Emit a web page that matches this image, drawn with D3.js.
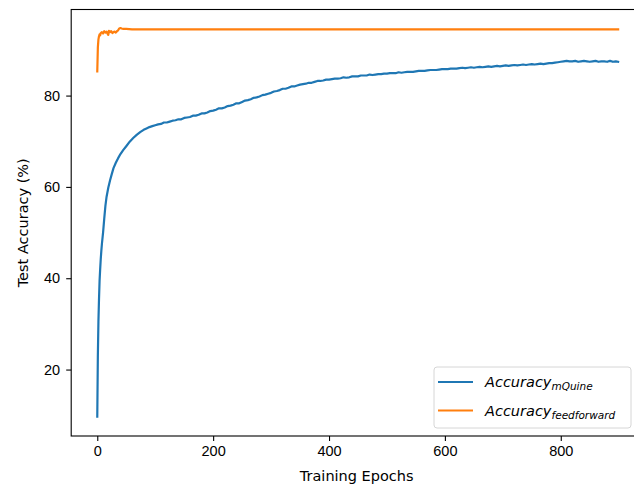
<!DOCTYPE html>
<html lang="en">
<head>
    <meta charset="UTF-8">
    <title>Test accuracy</title>
    <style type="text/css">
        body { margin: 0; background: #fff; }
        svg { display: block; font-family: "DejaVu Sans", sans-serif; }
        .axis text { font-size: 14.5px; fill: #000; }
        .axis path, .axis line { stroke: #000; stroke-width: 1.1; }
    </style>
</head>
<body>

<svg width="634" height="488"></svg>

<script src="https://d3js.org/d3.v7.min.js"></script>

<script>
    // tick labels
    var xTicks = [0, 200, 400, 600, 800];
    var yTicks = [20, 40, 60, 80];

    // mQuine test accuracy
    var quineEpochs = [0, 1, 2, 3, 4, 5, 6, 7, 8, 10, 12, 14, 16, 19, 22, 25, 28, 32, 36, 40, 45, 50, 56, 62, 68, 74, 80, 85, 90, 95,
        100, 105, 110, 115, 120, 125, 130, 135, 140, 145, 150, 155, 160, 165, 170, 175, 180, 185, 190, 195,
        200, 205, 210, 215, 220, 225, 230, 235, 240, 245, 250, 255, 260, 265, 270, 275, 280, 285, 290, 295,
        300, 305, 310, 315, 320, 325, 330, 335, 340, 345, 350, 355, 360, 365, 370, 375, 380, 385, 390, 395,
        400, 405, 410, 415, 420, 425, 430, 435, 440, 445, 450, 455, 460, 465, 470, 475, 480, 485, 490, 495,
        500, 505, 510, 515, 520, 525, 530, 535, 540, 545, 550, 555, 560, 565, 570, 575, 580, 585, 590, 595,
        600, 605, 610, 615, 620, 625, 630, 635, 640, 645, 650, 655, 660, 665, 670, 675, 680, 685, 690, 695,
        700, 705, 710, 715, 720, 725, 730, 735, 740, 745, 750, 755, 760, 765, 770, 775, 780, 785, 790, 795,
        800, 805, 810, 815, 820, 825, 830, 835, 840, 845, 850, 855, 860, 865, 870, 875, 880, 885, 890, 895, 899];
    var quineAcc = [9.7, 23.0, 30.5, 35.5, 39.5, 42.0, 44.2, 46.0, 47.5, 50.0, 53.0, 55.8, 57.8, 59.8, 61.4, 62.8, 64.1, 65.3, 66.3, 67.2, 68.1, 68.9, 69.9, 70.7, 71.4, 72.0, 72.5, 72.8, 73.1, 73.3,
        73.5, 73.7, 73.8, 74.1, 74.1, 74.3, 74.5, 74.6, 74.8, 74.8, 75.1, 75.2, 75.3, 75.6, 75.6, 75.8, 76.1, 76.1, 76.3, 76.6,
        76.7, 76.9, 77.2, 77.2, 77.4, 77.7, 77.8, 78.0, 78.3, 78.3, 78.6, 78.9, 79.0, 79.2, 79.5, 79.6, 79.8, 80.1, 80.2, 80.4,
        80.6, 80.9, 81.0, 81.2, 81.5, 81.5, 81.7, 82.0, 82.0, 82.2, 82.4, 82.5, 82.6, 82.8, 82.8, 83.0, 83.2, 83.2, 83.3, 83.5,
        83.5, 83.6, 83.7, 83.7, 83.8, 84.0, 83.9, 84.0, 84.2, 84.2, 84.2, 84.4, 84.4, 84.4, 84.6, 84.5, 84.6, 84.7, 84.7, 84.8,
        84.8, 84.9, 84.9, 84.9, 85.1, 85.0, 85.1, 85.2, 85.2, 85.2, 85.3, 85.4, 85.4, 85.4, 85.5, 85.6, 85.6, 85.6, 85.7, 85.8,
        85.8, 85.8, 85.9, 85.9, 85.9, 86.0, 86.1, 86.0, 86.1, 86.2, 86.1, 86.2, 86.3, 86.2, 86.3, 86.4, 86.3, 86.4, 86.5, 86.4,
        86.5, 86.6, 86.5, 86.6, 86.7, 86.6, 86.7, 86.8, 86.7, 86.8, 86.9, 86.8, 86.9, 87.0, 86.9, 87.0, 87.1, 87.1, 87.2, 87.3,
        87.4, 87.5, 87.6, 87.5, 87.5, 87.6, 87.4, 87.5, 87.6, 87.5, 87.4, 87.5, 87.6, 87.4, 87.5, 87.5, 87.4, 87.6, 87.4, 87.5, 87.4];

    // feedforward test accuracy
    var ffEpochs = [0, 1, 2, 3, 4, 5, 6, 8, 10, 12, 14, 16, 18, 19, 20, 22, 24, 26, 28, 30, 32, 34, 36, 38, 40, 42, 45, 50, 60,
        100, 200, 300, 400, 500, 600, 700, 800, 899];
    var ffAcc = [85.3, 90.5, 92.3, 93.0, 93.4, 93.2, 93.7, 93.9, 93.6, 94.1, 93.8, 94.0, 93.5, 93.3, 94.2, 93.9, 94.1, 93.7, 93.9, 94.0, 93.8, 94.1, 94.3, 94.7, 94.8, 94.7, 94.6, 94.6, 94.5,
        94.5, 94.5, 94.5, 94.5, 94.5, 94.5, 94.5, 94.5, 94.5];

    var seriesNames = ["mQuine", "feedforward"];
    var seriesColors = ["#1f77b4", "#ff7f0e"];

    var series = [
        {name: seriesNames[0], color: seriesColors[0], pts: quineEpochs.map(function (e, i) { return [e, quineAcc[i]]; })},
        {name: seriesNames[1], color: seriesColors[1], pts: ffEpochs.map(function (e, i) { return [e, ffAcc[i]]; })}
    ];

    var svg = d3.select("svg"),
        margin = {top: 9.5, left: 71.2},
        plotW = 573,
        plotH = 426.5,
        g = svg.append("g").attr("transform", "translate(" + margin.left + "," + margin.top + ")");

    var x = d3.scaleLinear().domain([-45, 944]).range([0, plotW]);
    var y = d3.scaleLinear().domain([5.45, 98.85]).range([plotH, 0]);

    var line = d3.line()
        .x(function (d) { return x(d[0]); })
        .y(function (d) { return y(d[1]); });

    g.selectAll("path.series")
        .data(series)
        .enter().append("path")
        .attr("class", "series")
        .attr("d", function (d) { return line(d.pts); })
        .attr("fill", "none")
        .attr("stroke", function (d) { return d.color; })
        .attr("stroke-width", 2.2)
        .attr("stroke-linejoin", "round")
        .attr("stroke-linecap", "square");

    // spines
    g.append("rect")
        .attr("width", plotW).attr("height", plotH)
        .attr("fill", "none").attr("stroke", "#000").attr("stroke-width", 1.1);

    g.append("g")
        .attr("class", "axis")
        .attr("transform", "translate(0," + plotH + ")")
        .call(d3.axisBottom(x).tickValues(xTicks).tickSize(5).tickPadding(5))
        .call(function (s) { s.select(".domain").remove(); });

    g.append("g")
        .attr("class", "axis")
        .call(d3.axisLeft(y).tickValues(yTicks).tickSize(5).tickPadding(6))
        .call(function (s) { s.select(".domain").remove(); });

    svg.append("text")
        .attr("x", margin.left + plotW / 2 - 1)
        .attr("y", 481)
        .attr("text-anchor", "middle")
        .style("font-size", "14.5px")
        .text("Training Epochs");

    svg.append("text")
        .attr("transform", "translate(28," + (margin.top + plotH / 2) + ") rotate(-90)")
        .attr("text-anchor", "middle")
        .style("font-size", "14.5px")
        .text("Test Accuracy (%)");

    // legend
    var lg = svg.append("g").attr("transform", "translate(434,367)");
    lg.append("rect")
        .attr("width", 197).attr("height", 61).attr("rx", 3)
        .attr("fill", "#fff").attr("fill-opacity", 0.8)
        .attr("stroke", "#d6d6d6").attr("stroke-width", 1);

    var items = lg.selectAll("g.item")
        .data(series)
        .enter().append("g")
        .attr("class", "item")
        .attr("transform", function (d, i) { return "translate(0," + (15 + i * 28.5) + ")"; });

    items.append("line")
        .attr("x1", 4).attr("x2", 39)
        .attr("stroke", function (d) { return d.color; })
        .attr("stroke-width", 2.1);

    var t = items.append("text")
        .attr("x", 51).attr("y", 5)
        .style("font-size", "14.5px")
        .style("font-style", "italic");
    t.append("tspan").text("Accuracy");
    t.append("tspan")
        .attr("dy", 3)
        .style("font-size", "10.5px")
        .text(function (d) { return d.name; });
</script>

</body>
</html>
